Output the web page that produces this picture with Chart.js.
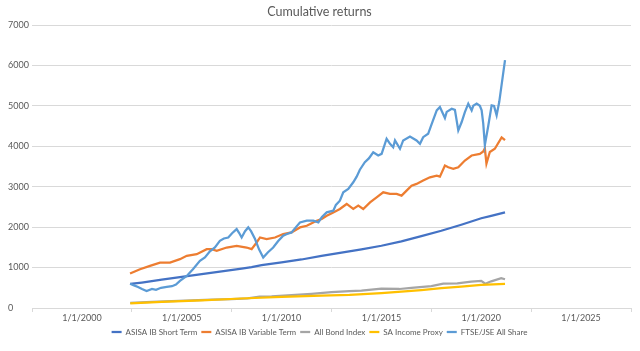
<!DOCTYPE html>
<html>
<head>
<meta charset="utf-8">
<script src="https://cdn.jsdelivr.net/npm/chart.js@4.4.1/dist/chart.umd.min.js"></script>
<style>
  html, body { margin: 0; padding: 0; background: #ffffff; }
  canvas { display: block; }
</style>
</head>
<body>
<canvas id="c" width="640" height="351"></canvas>
<script>
// ---- Data (decimal years / values) ----
const xTickYears = [1997.5, 2000, 2002.5, 2005, 2007.5, 2010, 2012.5, 2015, 2017.5, 2020, 2022.5, 2025, 2027.5];
const labelYears = [2000, 2005, 2010, 2015, 2020, 2025];

const shortTermYears = [2002.42, 2003, 2004, 2005, 2006, 2007, 2008, 2008.5, 2009, 2010, 2011, 2012, 2013, 2014, 2015, 2016, 2017, 2018, 2019, 2020, 2020.5, 2021.19];
const shortTermValues = [595, 630, 700, 770, 840, 905, 975, 1010, 1060, 1130, 1200, 1290, 1370, 1450, 1540, 1650, 1780, 1910, 2060, 2220, 2280, 2365];

const variableYears = [2002.41, 2002.91, 2003.41, 2003.91, 2004.41, 2004.91, 2005.25, 2005.75, 2006.25, 2006.5, 2006.75, 2007.25, 2007.75, 2008.25, 2008.5, 2008.75, 2008.92, 2009.25, 2009.67, 2010.08, 2010.5, 2010.92, 2011.26, 2011.76, 2012.01, 2012.26, 2012.59, 2012.92, 2013.26, 2013.59, 2013.84, 2014.09, 2014.43, 2014.76, 2015.09, 2015.43, 2015.76, 2016.01, 2016.26, 2016.51, 2016.76, 2017.09, 2017.43, 2017.77, 2017.93, 2018.18, 2018.35, 2018.6, 2018.85, 2019.18, 2019.52, 2019.93, 2020.1, 2020.18, 2020.26, 2020.43, 2020.68, 2021.02, 2021.19];
const variableValues = [851, 960, 1042, 1124, 1124, 1208, 1290, 1332, 1456, 1456, 1414, 1496, 1538, 1496, 1456, 1620, 1744, 1705, 1744, 1829, 1869, 1993, 2035, 2159, 2201, 2283, 2365, 2449, 2573, 2449, 2531, 2449, 2613, 2737, 2861, 2821, 2821, 2779, 2903, 3027, 3069, 3151, 3233, 3275, 3250, 3524, 3482, 3441, 3482, 3648, 3772, 3813, 3870, 3950, 3570, 3860, 3940, 4220, 4150];

const bondYears = [2002.42, 2003.5, 2004.5, 2005.5, 2006.5, 2007.5, 2008.3, 2008.9, 2009.5, 2010.5, 2011.5, 2012.5, 2013.4, 2014, 2015, 2015.9, 2016.5, 2017.5, 2018.1, 2018.8, 2019.5, 2020.0, 2020.2, 2020.5, 2021.0, 2021.19];
const bondValues = [125, 150, 170, 190, 205, 220, 240, 280, 290, 320, 350, 390, 420, 430, 480, 470, 500, 540, 600, 610, 650, 670, 600, 660, 740, 712];

const incomeYears = [2002.42, 2004, 2006, 2008, 2010, 2012, 2013.4, 2015, 2016, 2017, 2018, 2019, 2020, 2021.19];
const incomeValues = [115, 150, 190, 235, 275, 305, 325, 370, 405, 445, 490, 530, 570, 595];

const ftseYears = [2002.41, 2002.61, 2002.81, 2003.01, 2003.24, 2003.51, 2003.71, 2003.96, 2004.25, 2004.51, 2004.71, 2004.91, 2005.25, 2005.56, 2005.91, 2006.16, 2006.41, 2006.66, 2006.91, 2007.11, 2007.33, 2007.52, 2007.75, 2007.87, 2008.0, 2008.17, 2008.33, 2008.47, 2008.67, 2008.87, 2009.08, 2009.32, 2009.58, 2009.82, 2010.08, 2010.27, 2010.5, 2010.72, 2010.92, 2011.26, 2011.59, 2011.84, 2012.02, 2012.26, 2012.59, 2012.72, 2012.92, 2013.09, 2013.34, 2013.59, 2013.76, 2013.92, 2014.17, 2014.37, 2014.59, 2014.84, 2015.01, 2015.26, 2015.43, 2015.59, 2015.68, 2015.93, 2016.09, 2016.43, 2016.76, 2016.93, 2017.09, 2017.34, 2017.52, 2017.77, 2017.93, 2018.18, 2018.27, 2018.52, 2018.68, 2018.85, 2019.02, 2019.18, 2019.35, 2019.52, 2019.6, 2019.77, 2019.93, 2020.02, 2020.1, 2020.18, 2020.35, 2020.52, 2020.64, 2020.77, 2020.9, 2021.19];
const ftseValues = [600, 560, 520, 470, 422, 470, 450, 500, 520, 540, 580, 670, 794, 960, 1166, 1250, 1400, 1500, 1663, 1720, 1744, 1850, 1953, 1860, 1744, 1900, 1993, 1900, 1705, 1450, 1248, 1380, 1496, 1650, 1787, 1830, 1869, 2000, 2117, 2159, 2159, 2117, 2250, 2365, 2407, 2550, 2655, 2861, 2945, 3110, 3250, 3420, 3606, 3700, 3853, 3772, 3813, 4186, 4062, 3978, 4144, 3938, 4144, 4243, 4144, 4062, 4226, 4309, 4557, 4888, 4970, 4700, 4850, 4930, 4900, 4392, 4600, 4846, 5054, 4888, 5000, 5054, 5000, 4888, 4558, 4030, 4500, 5012, 5000, 4764, 5094, 6129];

const seriesNames = ['ASISA IB Short Term', 'ASISA IB Variable Term', 'All Bond Index', 'SA Income Proxy', 'FTSE/JSE All Share'];
const seriesColors = ['#4472C4', '#ED7D31', '#A5A5A5', '#FFC000', '#5B9BD5'];

const yTicks = [0, 1000, 2000, 3000, 4000, 5000, 6000, 7000];

function pts(xs, ys) { return xs.map((x, i) => ({ x: x, y: ys[i] })); }

const allSeries = [
  pts(shortTermYears, shortTermValues),
  pts(variableYears, variableValues),
  pts(bondYears, bondValues),
  pts(incomeYears, incomeValues),
  pts(ftseYears, ftseValues)
];

const FONT = 'Lato, "Open Sans", sans-serif';
const TXT = '#595959';
const GRID = '#D9D9D9';

const datasets = allSeries.map((d, i) => ({
  label: seriesNames[i],
  data: d,
  borderColor: seriesColors[i],
  backgroundColor: seriesColors[i],
  borderWidth: 2.25,
  pointRadius: 0,
  tension: 0,
  fill: false,
  order: 5 - i
}));

new Chart(document.getElementById('c'), {
  type: 'line',
  data: { datasets: datasets },
  options: {
    responsive: false,
    animation: false,
    layout: { padding: { left: 8, right: 9, top: 0, bottom: 5 } },
    plugins: {
      title: {
        display: true,
        text: 'Cumulative returns',
        color: TXT,
        font: { family: FONT, size: 12.5, weight: 'normal' },
        padding: { top: 4, bottom: 6 }
      },
      legend: {
        position: 'bottom',
        labels: {
          color: TXT,
          font: { family: FONT, size: 8 },
          usePointStyle: true,
          pointStyle: 'line',
          pointStyleWidth: 10,
          boxHeight: 8,
          padding: 4,
          sort: (a, b) => a.datasetIndex - b.datasetIndex
        }
      },
      tooltip: { enabled: false }
    },
    scales: {
      x: {
        type: 'linear',
        min: 1997.5,
        max: 2027.5,
        afterBuildTicks: (s) => { s.ticks = xTickYears.map(v => ({ value: v })); },
        afterFit: (s) => { s.height = 16; },
        ticks: {
          autoSkip: false,
          maxRotation: 0,
          color: TXT,
          font: { family: FONT, size: 9 },
          padding: 1,
          callback: (v) => labelYears.includes(v) ? '1/1/' + v : ''
        },
        grid: {
          drawOnChartArea: false,
          drawTicks: true,
          tickLength: 4,
          color: (ctx) => (ctx.tick && labelYears.includes(ctx.tick.value)) ? 'rgba(0,0,0,0)' : GRID
        },
        border: { display: true, color: GRID, width: 1 }
      },
      y: {
        min: 0,
        max: 7000,
        afterBuildTicks: (s) => { s.ticks = yTicks.map(v => ({ value: v })); },
        afterFit: (s) => { s.width = 24; },
        ticks: {
          color: TXT,
          font: { family: FONT, size: 9 },
          crossAlign: 'far',
          padding: 4,
          callback: (v) => String(v)
        },
        grid: { color: GRID, drawTicks: false, lineWidth: 1 },
        border: { display: false }
      }
    }
  }
});
</script>
</body>
</html>
